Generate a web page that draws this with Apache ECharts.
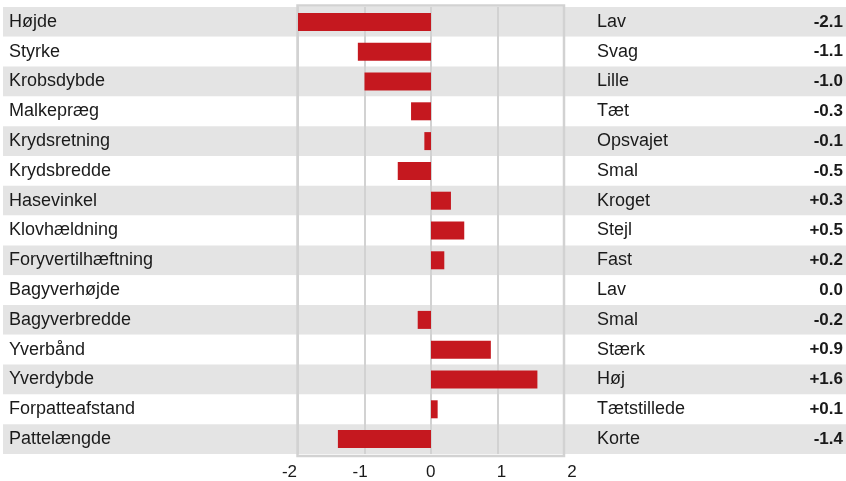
<!DOCTYPE html>
<html>
<head>
<meta charset="utf-8">
<script src="https://cdn.jsdelivr.net/npm/echarts@6/dist/echarts.min.js"></script>
<style>
html,body{margin:0;padding:0;background:#fff;}
#chart{width:846px;height:481px;}
</style>
</head>
<body>
<div id="chart"></div>
<script>
var traits = ['Højde','Styrke','Krobsdybde','Malkepræg','Krydsretning','Krydsbredde','Hasevinkel','Klovhældning','Foryvertilhæftning','Bagyverhøjde','Bagyverbredde','Yverbånd','Yverdybde','Forpatteafstand','Pattelængde'];
var rightLabels = ['Lav','Svag','Lille','Tæt','Opsvajet','Smal','Kroget','Stejl','Fast','Lav','Smal','Stærk','Høj','Tætstillede','Korte'];
var values = [-2.1,-1.1,-1.0,-0.3,-0.1,-0.5,0.3,0.5,0.2,0.0,-0.2,0.9,1.6,0.1,-1.4];
var tickValues = [-2,-1,0,1,2];

function fmt(v){
  if (v > 0) return '+' + v.toFixed(1);
  if (v === 0) return '0.0';
  return v.toFixed(1);
}
var valueLabels = values.map(fmt);

var FONT = 'Liberation Sans, Arial, Helvetica, sans-serif';
var TXT = '#1a1a1a';
var GRID_TOP = 7, GRID_H = 447;

var chart = echarts.init(document.getElementById('chart'), null, {renderer:'canvas'});
chart.setOption({
  animation:false,
  backgroundColor:'#ffffff',
  grid:[
    {left:3, right:0, top:GRID_TOP, height:GRID_H, z:0},
    {left:298, width:266, top:GRID_TOP, height:GRID_H, z:1},
    {left:297.5, width:266.5, top:5.5, height:450.5, show:true, backgroundColor:'transparent', borderColor:'#d2d2d2', borderWidth:2.5, z:1},
    {left:289.5, width:282.5, top:450, height:7, z:1}
  ],
  xAxis:[
    {gridIndex:0, type:'value', show:false, min:0, max:1},
    {gridIndex:1, type:'value', min:-2, max:2, interval:1, z:1,
      axisLine:{show:false}, axisTick:{show:false}, axisLabel:{show:false},
      splitLine:{show:true, lineStyle:{color:'#d2d2d2', width:2}}},
    {gridIndex:2, type:'value', show:false, min:0, max:1},
    {gridIndex:3, type:'value', min:-2, max:2, interval:1,
      axisLine:{show:false}, axisTick:{show:false}, splitLine:{show:false},
      axisLabel:{show:true, margin:7, fontSize:17, fontFamily:FONT, color:TXT}}
  ],
  yAxis:[
    {gridIndex:0, type:'category', data:traits, inverse:true, z:0,
      axisLine:{show:false}, axisTick:{show:false}, axisLabel:{show:false}, splitLine:{show:false},
      splitArea:{show:true, areaStyle:{color:['#e4e4e4','#ffffff']}}},
    {gridIndex:1, type:'category', data:traits, inverse:true, position:'left',
      axisLine:{show:false}, axisTick:{show:false}, splitLine:{show:false},
      axisLabel:{show:true, margin:289, align:'left', fontSize:18, fontFamily:FONT, color:TXT}},
    {gridIndex:1, type:'category', data:rightLabels, inverse:true, position:'right',
      axisLine:{show:false}, axisTick:{show:false}, splitLine:{show:false},
      axisLabel:{show:true, margin:33, align:'left', fontSize:18, fontFamily:FONT, color:TXT}},
    {gridIndex:1, type:'category', data:valueLabels, inverse:true, position:'right',
      axisLine:{show:false}, axisTick:{show:false}, splitLine:{show:false},
      axisLabel:{show:true, margin:279, align:'right', fontSize:17, fontWeight:'bold', fontFamily:FONT, color:TXT}},
    {gridIndex:2, type:'value', show:false},
    {gridIndex:3, type:'value', show:false}
  ],
  series:[
    {type:'bar', xAxisIndex:1, yAxisIndex:1, data:values, barWidth:18, z:3,
      itemStyle:{color:'#c5181f'}, clip:true}
  ]
});
</script>
</body>
</html>
